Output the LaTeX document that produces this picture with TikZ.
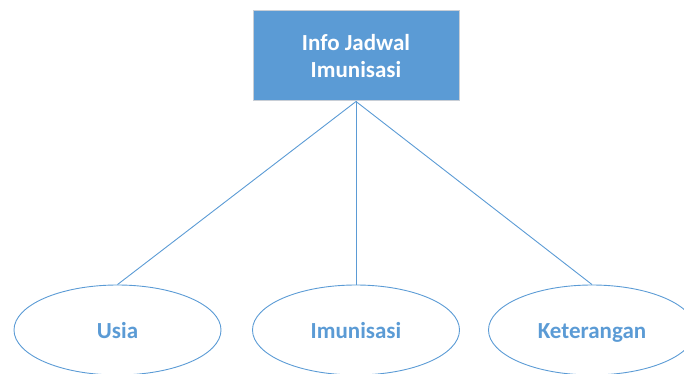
\documentclass[tikz,border=0pt]{standalone}
\usepackage{fontspec}
\setmainfont{Carlito}
\usetikzlibrary{shapes.geometric}
\definecolor{accent}{HTML}{5B9BD5}
\definecolor{edgegray}{HTML}{C8CED6}
\tikzset{
  entitybox/.style={rectangle, draw=edgegray, line width=1pt, fill=accent, text=white,
    minimum width=206pt, minimum height=90pt, inner sep=0pt, align=center,
    font=\bfseries\fontsize{23}{27}\selectfont},
  attr/.style={ellipse, draw=accent, line width=0.9pt, minimum width=207pt, minimum height=90pt,
    inner sep=0pt, text=accent, text height=16pt, text depth=0pt,
    font=\bfseries\fontsize{23}{27}\selectfont},
  link/.style={draw=accent, line width=0.9pt}
}
\begin{document}
\begin{tikzpicture}[x=1pt,y=-1pt]
\useasboundingbox (0,0) rectangle (684,374);
\node[entitybox] (info) at (356,56) {Info Jadwal\\Imunisasi};
\node[attr] (usia) at (117.5,330) {Usia};
\node[attr] (imun) at (356,330) {Imunisasi};
\node[attr] (ket) at (592,330) {Keterangan};
\draw[link] (info.south) -- (usia.north);
\draw[link] (info.south) -- (imun.north);
\draw[link] (info.south) -- (ket.north);
\end{tikzpicture}
\end{document}
